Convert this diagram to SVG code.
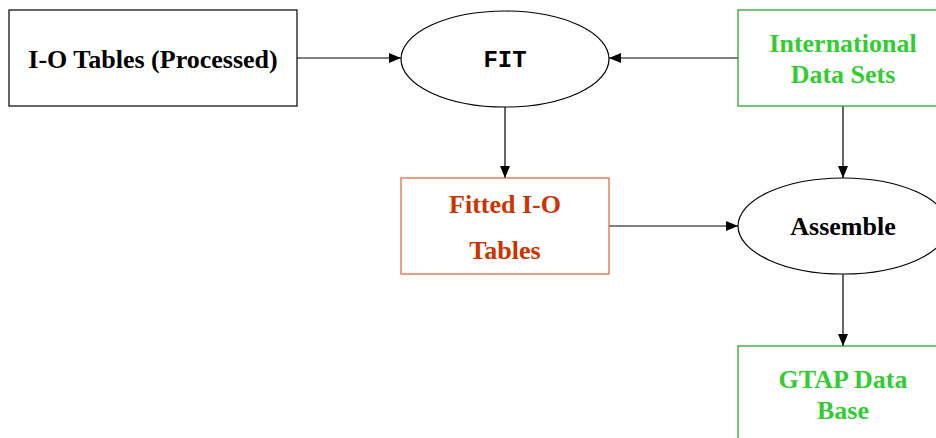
<svg xmlns="http://www.w3.org/2000/svg" width="936" height="438" viewBox="0 0 936 438">
<style>
.b{fill:#fff;stroke:#000;stroke-width:1.2}
.g{fill:#fff;stroke:#1a9e1a;stroke-width:1.2}
.o{fill:#fff;stroke:#e0603a;stroke-width:1.2}
.t{font-family:"Liberation Serif",serif;font-weight:bold;font-size:26px;text-anchor:middle}
.tg{fill:#33cc33}
.to{fill:#cc3300}
.m{font-family:"Liberation Mono",monospace;font-weight:bold;font-size:24px;text-anchor:middle}
.c{stroke:#000;stroke-width:1.2;fill:none;marker-end:url(#a)}
</style>
<defs>
<marker id="a" viewBox="0 0 12 10" refX="12" refY="5" markerWidth="12" markerHeight="10" markerUnits="userSpaceOnUse" orient="auto">
<path d="M0,0 L12,5 L0,10 Z" fill="#000"/>
</marker>
</defs>
<rect width="936" height="438" fill="#fff"/>
<g id="connectors">
<line class="c" x1="297" y1="58" x2="401" y2="58"/>
<line class="c" x1="738" y1="58" x2="609" y2="58"/>
<line class="c" x1="505" y1="107" x2="505" y2="178"/>
<line class="c" x1="609" y1="226" x2="738" y2="226"/>
<line class="c" x1="843" y1="106" x2="843" y2="178"/>
<line class="c" x1="843" y1="274" x2="843" y2="346"/>
</g>
<g id="io-tables">
<rect class="b" x="9" y="10" width="288" height="96"/>
<text class="t" x="153" y="68">I-O Tables (Processed)</text>
</g>
<g id="fit">
<ellipse class="b" cx="505" cy="59" rx="104" ry="48"/>
<text class="m" x="505" y="67">FIT</text>
</g>
<g id="international">
<rect class="g" x="738" y="10" width="210" height="96"/>
<text class="t tg" x="843" y="52">International</text>
<text class="t tg" x="843" y="83">Data Sets</text>
</g>
<g id="fitted">
<rect class="o" x="401" y="178" width="208" height="96"/>
<text class="t to" x="505" y="213">Fitted I-O</text>
<text class="t to" x="505" y="259">Tables</text>
</g>
<g id="assemble">
<ellipse class="b" cx="843" cy="226" rx="105" ry="48"/>
<text class="t" x="843" y="235">Assemble</text>
</g>
<g id="gtap">
<rect class="g" x="738" y="346" width="210" height="100"/>
<text class="t tg" x="843" y="388">GTAP Data</text>
<text class="t tg" x="843" y="419">Base</text>
</g>
</svg>
